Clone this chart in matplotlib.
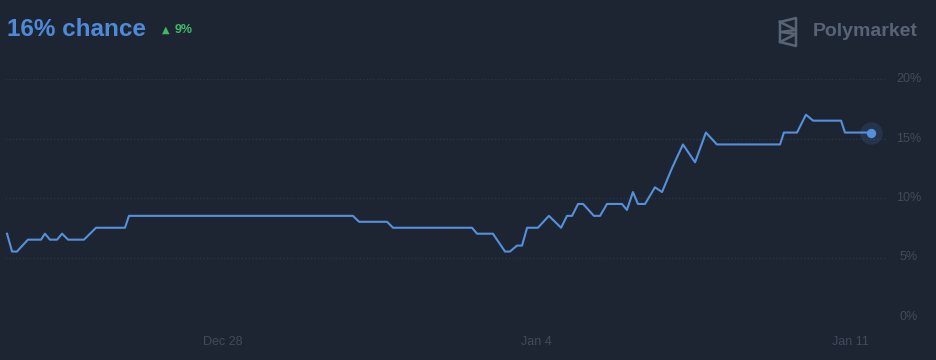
"""Polymarket-style probability chart: 16% chance, Dec 23 -> Jan 11."""
import matplotlib
matplotlib.use("Agg")
import matplotlib.pyplot as plt
import matplotlib.dates as mdates
import pandas as pd

# ---- data ----------------------------------------------------------------
times = [
    "2024-12-23 04:18", "2024-12-23 07:00", "2024-12-23 09:36", "2024-12-23 15:30",
    "2024-12-23 22:30", "2024-12-24 00:36", "2024-12-24 03:18", "2024-12-24 07:06",
    "2024-12-24 09:48", "2024-12-24 13:00", "2024-12-24 21:30", "2024-12-25 04:00",
    "2024-12-25 19:30", "2024-12-25 21:36", "2024-12-30 21:36", "2024-12-31 00:54",
    "2024-12-31 15:54", "2024-12-31 19:06", "2025-01-02 13:24", "2025-01-02 16:06",
    "2025-01-03 00:36", "2025-01-03 07:06", "2025-01-03 09:42", "2025-01-03 13:30",
    "2025-01-03 16:12", "2025-01-03 18:54", "2025-01-04 00:42", "2025-01-04 06:36",
    "2025-01-04 13:06", "2025-01-04 16:18", "2025-01-04 19:00", "2025-01-04 22:12",
    "2025-01-05 00:54", "2025-01-05 06:42", "2025-01-05 10:00", "2025-01-05 13:42",
    "2025-01-05 21:42", "2025-01-06 00:24", "2025-01-06 03:36", "2025-01-06 06:18",
    "2025-01-06 10:06", "2025-01-06 15:24", "2025-01-06 19:12", "2025-01-07 00:30",
    "2025-01-07 06:24", "2025-01-07 12:54", "2025-01-07 18:42", "2025-01-08 00:36",
    "2025-01-09 10:24", "2025-01-09 12:30", "2025-01-09 19:30", "2025-01-10 00:18",
    "2025-01-10 04:06", "2025-01-10 19:06", "2025-01-10 21:12", "2025-01-11 11:06",
]
chance = [
    7.0, 5.5, 5.5, 6.5,
    6.5, 7.0, 6.5, 6.5,
    7.0, 6.5, 6.5, 7.5,
    7.5, 8.5, 8.5, 8.0,
    8.0, 7.5, 7.5, 7.0,
    7.0, 5.5, 5.5, 6.0,
    6.0, 7.5, 7.5, 8.5,
    7.5, 8.5, 8.5, 9.5,
    9.5, 8.5, 8.5, 9.5,
    9.5, 9.0, 10.5, 9.5,
    9.5, 10.9, 10.5, 12.5,
    14.5, 13.0, 15.5, 14.5,
    14.5, 15.5, 15.5, 17.0,
    16.5, 16.5, 15.5, 15.5,
]
yticks = [0, 5, 10, 15, 20]
xtick_days = ["2024-12-28", "2025-01-04", "2025-01-11"]
xtick_labels = ["Dec 28", "Jan 4", "Jan 11"]
headline = "16% chance"
delta = "9%"

BG = "#1e2532"
LINE = "#5590dc"
GRID = "#2b3444"
TXT = "#404b5d"
LOGO = "#586376"

plt.rcParams["font.family"] = ["Liberation Sans", "DejaVu Sans"]

t = pd.to_datetime(times)
fig = plt.figure(figsize=(9.36, 3.6), dpi=100, facecolor=BG)
ax = fig.add_axes([5 / 936, 1 - 317 / 360, (887 - 5) / 936, (317 - 79) / 360])
ax.set_facecolor(BG)

ax.plot(t, chance, color=LINE, lw=1.5, solid_joinstyle="round", zorder=3)
ax.scatter([t[-1]], [chance[-1]], s=260, color=LINE, alpha=0.15, lw=0, zorder=4)
ax.scatter([t[-1]], [chance[-1]], s=45, color=LINE, lw=0, zorder=5)

# x range: pixel 5 -> 887, with Dec 28 at x=223 and 44.8 px/day
d0 = mdates.date2num(pd.Timestamp("2024-12-28"))
ax.set_xlim(d0 + (5 - 223) / 44.8, d0 + (887 - 223) / 44.8)
ax.set_ylim(0, 20)

for v in yticks:
    ax.axhline(v, color=GRID, lw=1, ls=(0, (1, 1.5)), zorder=1)
    ax.text(1.025, v, f"{v}%", transform=ax.get_yaxis_transform(), color=TXT,
            fontsize=9, ha="center", va="center")

ax.set_xticks(pd.to_datetime(xtick_days))
ax.set_xticklabels(xtick_labels, color=TXT, fontsize=9)
ax.tick_params(axis="x", length=0, pad=14)
ax.set_yticks([])
for s in ax.spines.values():
    s.set_visible(False)

# header
fig.text(7 / 936, 1 - 30 / 360, headline, color="#4f8ad8", fontsize=17.5,
         fontweight="bold", va="center", ha="left")
fig.text(162 / 936, 1 - 30 / 360, "\u25B2", color="#3fb868", fontsize=7,
         va="center", ha="left", family=["DejaVu Sans"])
fig.text(175 / 936, 1 - 30 / 360, delta, color="#3fb868", fontsize=9,
         fontweight="bold", va="center", ha="left")

# Polymarket logo: trapezoid with a double chevron inside
fig.text(918 / 936, 1 - 32 / 360, "Polymarket", color=LOGO, fontsize=14,
         fontweight="bold", va="center", ha="right")
px = lambda x: x / 936
py = lambda y: 1 - y / 360
outer = [(780, 22), (796, 18), (796, 46), (780, 42), (780, 22)]
inner = [(780, 22), (796, 30), (780, 32), (796, 34), (780, 42)]
for pts in (outer, inner):
    fig.lines.append(plt.Line2D([px(p[0]) for p in pts], [py(p[1]) for p in pts],
                                transform=fig.transFigure, color=LOGO, lw=1.8,
                                solid_joinstyle="round"))

fig.savefig("out.png", dpi=100, facecolor=BG)
